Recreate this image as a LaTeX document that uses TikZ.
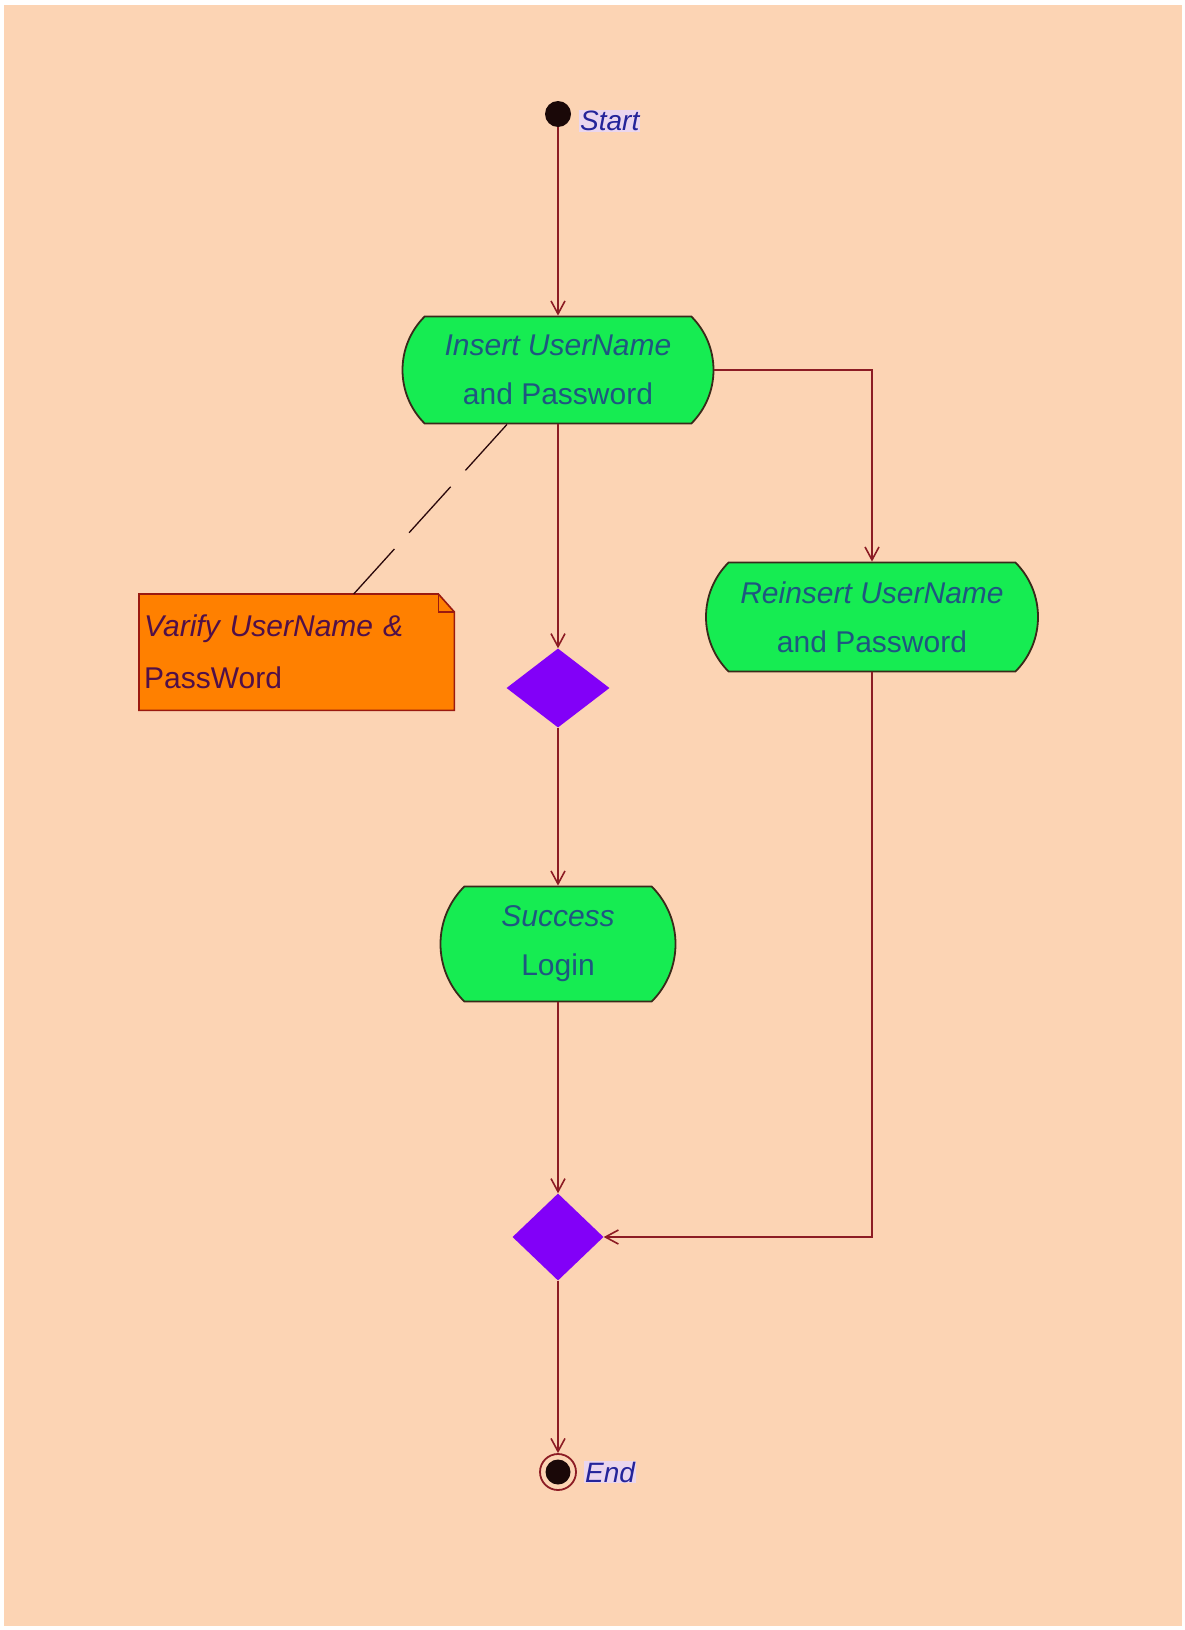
\documentclass[tikz,border=0pt]{standalone}
\usepackage{fontspec}
\setmainfont{Liberation Sans}
\usetikzlibrary{shapes.geometric,shapes.misc,arrows.meta}

\definecolor{bgPeach}{HTML}{FCD4B4}
\definecolor{actGreen}{RGB}{22,236,82}
\definecolor{boxEdge}{HTML}{3A2A1A}
\definecolor{actText}{HTML}{1F5680}
\definecolor{decPurple}{RGB}{130,0,248}
\definecolor{noteOrange}{HTML}{FF8000}
\definecolor{noteEdge}{HTML}{9A1A10}
\definecolor{noteText}{HTML}{501048}
\definecolor{flowRed}{HTML}{8C1C24}
\definecolor{labelBlue}{HTML}{24249A}
\definecolor{labelBack}{HTML}{EAD6EE}
\definecolor{dotBlack}{HTML}{1A0808}

\pgfdeclarelayer{under}
\pgfsetlayers{under,main}

\tikzset{
  act/.style={rounded rectangle, rounded rectangle arc length=90,
    draw=boxEdge, line width=1.8pt, fill=actGreen, inner sep=0pt,
    align=center, text=actText, font=\fontsize{30}{49}\selectfont},
  decision/.style={diamond, fill=decPurple, draw=none, inner sep=0pt},
  flow/.style={draw=flowRed, line width=2pt,
    -{Straight Barb[length=13pt,width=14pt,line width=1.6pt]}},
  statelabel/.style={fill=labelBack, text=labelBlue, inner sep=1pt,
    font=\fontsize{28}{32}\selectfont\itshape},
  notebox/.style={draw=none, inner xsep=5pt, inner ysep=0pt,
    text width=305pt, align=left, text=noteText,
    font=\fontsize{30}{52}\selectfont},
  anchorline/.style={draw=black!70!flowRed, line width=1.3pt,
    dash pattern=on 62pt off 22pt}
}

\begin{document}
\begin{tikzpicture}[x=1pt,y=-1pt]
  % canvas
  \useasboundingbox (0,0) rectangle (1185,1630);
  \begin{pgfonlayer}{under}
    \fill[white] (0,0) rectangle (1185,1630);
    \fill[bgPeach] (4,5) rectangle (1182,1626);
  \end{pgfonlayer}

  % initial state
  \node[circle, fill=dotBlack, minimum size=26pt, inner sep=0pt] (start) at (558,114) {};
  \node[statelabel, anchor=west] (startlbl) at (579,121) {Start};

  % activities
  \node[act, minimum width=311pt, minimum height=107pt] (ins) at (558,370)
    {{\itshape Insert UserName}\\and Password};
  \node[act, minimum width=332pt, minimum height=109pt] (rei) at (872,617)
    {{\itshape Reinsert UserName}\\and Password};
  \node[act, minimum width=235pt, minimum height=115pt] (suc) at (558,944)
    {{\itshape Success}\\Login};

  % decisions
  \node[decision, minimum width=103pt, minimum height=79pt] (d1) at (558,688) {};
  \node[decision, minimum width=91pt, minimum height=87pt] (d2) at (558,1237) {};

  % final state
  \node[circle, draw=flowRed, line width=1.8pt, minimum size=36pt, inner sep=0pt,
    path picture={\fill[dotBlack] (path picture bounding box.center) circle (12.5pt);}]
    (endn) at (558,1472) {};
  \node[statelabel, anchor=west] (endlbl) at (584,1472) {End};

  % note attached to the first activity, with a folded corner
  \node[notebox, minimum height=116pt, anchor=north west] (note) at (139,594)
    {{\itshape Varify UserName \&}\\PassWord};
  \begin{pgfonlayer}{under}
    \fill[noteOrange, draw=noteEdge, line width=1.6pt]
      (note.north west) -- ([xshift=-16pt]note.north east)
      -- ([yshift=-18pt]note.north east) -- (note.south east)
      -- (note.south west) -- cycle;
    \draw[noteEdge, line width=1.2pt]
      ([xshift=-16pt]note.north east) -- ([xshift=-16pt,yshift=-18pt]note.north east)
      -- ([yshift=-18pt]note.north east);
  \end{pgfonlayer}
  \draw[anchorline] ([xshift=-51pt]ins.south) -- ([xshift=57pt]note.north);

  % control flow
  \draw[flow] (start.south) -- (ins.north);
  \draw[flow] (ins.south) -- (d1.north);
  \draw[flow] (ins.east) -| (rei.north);
  \draw[flow] (d1.south) -- (suc.north);
  \draw[flow] (suc.south) -- (d2.north);
  \draw[flow] (rei.south) |- (d2.east);
  \draw[flow] (d2.south) -- (endn.north);
\end{tikzpicture}
\end{document}
